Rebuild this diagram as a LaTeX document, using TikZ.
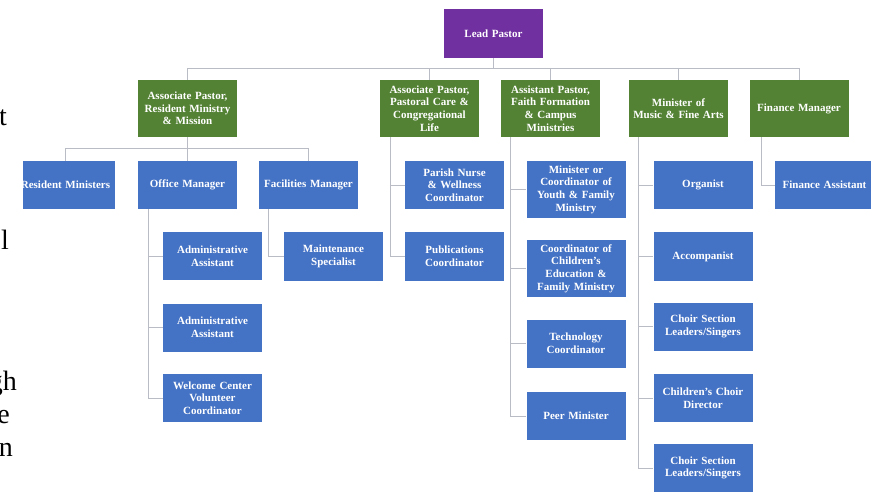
\documentclass[tikz,border=0pt]{standalone}
\usepackage{fontspec}
\setmainfont{Liberation Serif}
\definecolor{leadpurple}{RGB}{112,48,160}
\definecolor{headgreen}{RGB}{84,130,53}
\definecolor{staffblue}{RGB}{68,114,196}
\definecolor{linkgray}{RGB}{185,187,197}

\begin{document}
\begin{tikzpicture}[x=1pt,y=-1pt,
  box/.style={rectangle,minimum width=99pt,minimum height=48pt,inner sep=1pt,
    text width=97pt,align=center,text=white,font=\bfseries\fontsize{11}{12.6}\selectfont},
  lead/.style={box,fill=leadpurple,minimum height=49pt},
  head/.style={box,fill=headgreen,minimum height=57pt},
  staff/.style={box,fill=staffblue},
  tall/.style={staff,minimum height=57pt},
  link/.style={draw=linkgray,line width=0.8pt},
  frag/.style={anchor=base east,inner sep=0pt,font=\fontsize{28}{30}\selectfont}]
\useasboundingbox (0,0) rectangle (871,492);
\clip (0,0) rectangle (871,492);

% bits of the page text at the left edge
\node[frag] (fragA) at (7,126) {t};
\node[frag] (fragB) at (9,250) {l};
\node[frag] (fragC) at (17,390) {gh};
\node[frag] (fragD) at (10,423) {e};
\node[frag] (fragE) at (13,456) {n};

% top
\node[lead] (lead) at (493.5,33.5) {Lead Pastor};

% second row
\node[head] (g1) at (187.5,108.5) {Associate Pastor,\\Resident Ministry\\\& Mission};
\node[head] (g2) at (429.5,108.5) {Associate Pastor,\\Pastoral Care \&\\Congregational\\Life};
\node[head] (g3) at (550.5,108.5) {Assistant Pastor,\\Faith Formation\\\& Campus\\Ministries};
\node[head] (g4) at (678.5,108.5) {Minister of\\Music \& Fine Arts};
\node[head] (g5) at (799,108.5) {Finance Manager};

% under g1
\begin{scope}
\clip (23,0) rectangle (871,492);
\node[staff] (resid) at (65.5,185) {Resident Ministers};
\end{scope}
\node[staff] (office) at (187.5,185) {Office Manager};
\node[staff] (facil) at (308.5,185) {Facilities Manager};
\node[staff] (admA) at (212.5,256) {Administrative\\Assistant};
\node[staff] (admB) at (212.5,327.5) {Administrative\\Assistant};
\node[staff] (welcome) at (212.5,398) {Welcome Center\\Volunteer\\Coordinator};
\node[staff] (maint) at (333.5,256.5) {Maintenance\\Specialist};

% under g2
\node[staff] (nurse) at (454.5,185) {Parish Nurse\\\& Wellness\\Coordinator};
\node[staff] (publ) at (454.5,256.5) {Publications\\Coordinator};

% under g3
\node[tall] (youth) at (576,189.5) {Minister or\\Coordinator of\\Youth \& Family\\Ministry};
\node[tall] (child) at (576,268.5) {Coordinator of\\Children's\\Education \&\\Family Ministry};
\node[staff] (tech) at (576,343.5) {Technology\\Coordinator};
\node[staff] (peer) at (576,416) {Peer Minister};

% under g4
\node[staff] (organ) at (703,185) {Organist};
\node[staff] (accomp) at (703,256.5) {Accompanist};
\node[staff] (choirA) at (703,326.5) {Choir Section\\Leaders/Singers};
\node[staff] (cdir) at (703,398) {Children's Choir\\Director};
\node[staff] (choirB) at (703,468) {Choir Section\\Leaders/Singers};

% under g5
\node[staff] (finA) at (824.5,185) {Finance Assistant};

% connectors
\coordinate (bar) at (0,68);
\coordinate (barA) at (0,148);
\foreach \g in {g1,g2,g3,g4,g5}
  \draw[link] (lead.south) |- (\g.north |- bar) -- (\g.north);
\foreach \k in {resid,office,facil}
  \draw[link] (g1.south) |- (\k.north |- barA) -- (\k.north);

\coordinate (spO) at (148,0);
\coordinate (spF) at (268,0);
\coordinate (spB) at (390,0);
\coordinate (spC) at (510,0);
\coordinate (spD) at (638,0);
\coordinate (spE) at (761,0);
\foreach \k in {admA,admB,welcome}
  \draw[link] (spO |- office.south) |- (\k.west);
\draw[link] (spF |- facil.south) |- (maint.west);
\foreach \k in {nurse,publ}
  \draw[link] (spB |- g2.south) |- (\k.west);
\foreach \k in {youth,child,tech,peer}
  \draw[link] (spC |- g3.south) |- (\k.west);
\foreach \k in {organ,accomp,choirA,cdir,choirB}
  \draw[link] (spD |- g4.south) |- (\k.west);
\draw[link] (spE |- g5.south) |- (finA.west);

\end{tikzpicture}
\end{document}
